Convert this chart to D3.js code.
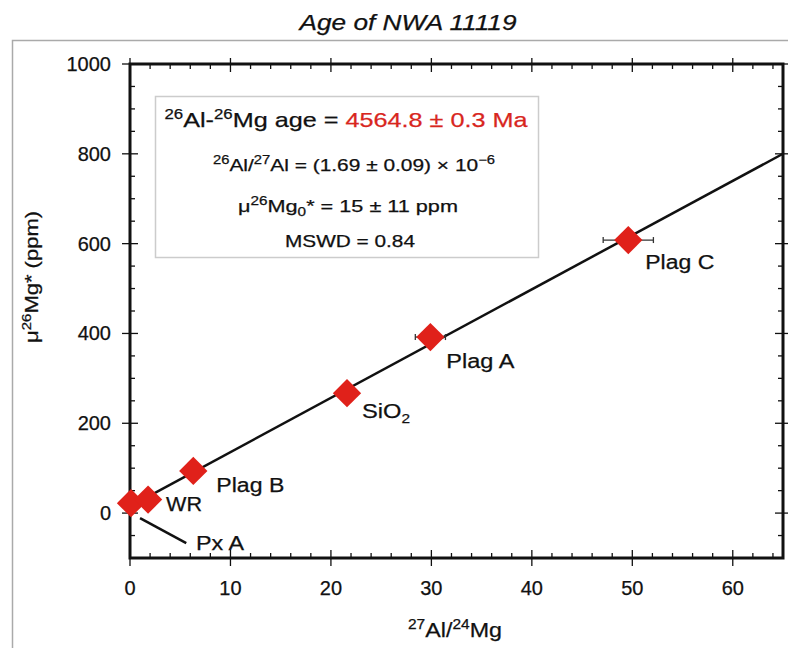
<!DOCTYPE html>
<html>
<head>
<meta charset="utf-8">
<script src="https://d3js.org/d3.v7.min.js"></script>
<style>
  body { margin: 0; background: #fff; }
  text { font-family: "Liberation Sans", Arial, sans-serif; fill: #111; stroke: #111; stroke-width: 0.25px; }
</style>
</head>
<body>
<script>
// samples
var samples = ["Px A", "WR", "Plag B", "SiO2", "Plag A", "Plag C"];
var alMg   = [0.1, 1.8, 6.3, 21.6, 29.9, 49.6];
var mgStar = [22, 30, 94, 267, 392, 608];
var alErr  = [0.3, 0.3, 0.3, 0.4, 1.5, 2.5];

var xTicks = [0, 10, 20, 30, 40, 50, 60];
var yTicks = [0, 200, 400, 600, 800, 1000];
var fitIntercept = 15, fitSlope = 12.08;

var W = 788, H = 648;
var pL = 130, pR = 783, pT = 64, pB = 558;

var svg = d3.select("body").append("svg").attr("width", W).attr("height", H);

var x = d3.scaleLinear().domain([0, 65]).range([pL, pR]);
var y = d3.scaleLinear().domain([-100, 1000]).range([pB, pT]);

// stretch text to the width seen in the picture
function fit(t, w) { return t.attr("textLength", w).attr("lengthAdjust", "spacingAndGlyphs"); }

// outer frame
svg.append("rect").attr("x", 12.5).attr("y", 40.5).attr("width", 800).attr("height", 700)
  .attr("fill", "none").attr("stroke", "#aaa").attr("stroke-width", 1.5);

fit(svg.append("text").attr("x", 408).attr("y", 30).attr("text-anchor", "middle")
  .style("font-size", "22px").style("font-style", "italic").text("Age of NWA 11119"), 217);

// ticks
var tk = svg.append("g").attr("stroke", "#111").attr("stroke-width", 1.3);
d3.range(0, 66, 2).forEach(function(v) {
  var major = v % 10 === 0;
  tk.append("line").attr("x1", x(v)).attr("x2", x(v)).attr("y1", pB - (major ? 8 : 5)).attr("y2", pB + (major ? 8 : 0));
  tk.append("line").attr("x1", x(v)).attr("x2", x(v)).attr("y1", pT + (major ? 8 : 5)).attr("y2", pT - (major ? 6 : 0));
});
d3.range(-100, 1001, 50).forEach(function(v) {
  var major = v % 200 === 0;
  tk.append("line").attr("y1", y(v)).attr("y2", y(v)).attr("x1", pL - (major ? 8 : 0)).attr("x2", pL + (major ? 8 : 5));
  tk.append("line").attr("y1", y(v)).attr("y2", y(v)).attr("x1", pR + (major ? 6 : 0)).attr("x2", pR - (major ? 8 : 5));
});

svg.selectAll(".xl").data(xTicks).enter().append("text")
  .attr("x", function(d) { return x(d); }).attr("y", pB + 37)
  .attr("text-anchor", "middle").style("font-size", "20px").text(function(d) { return d; });
svg.selectAll(".yl").data(yTicks).enter().append("text")
  .attr("x", pL - 19).attr("y", function(d) { return y(d) + 7; })
  .attr("text-anchor", "end").style("font-size", "20px").text(function(d) { return d; });

// frame
svg.append("rect").attr("x", pL).attr("y", pT).attr("width", pR - pL).attr("height", pB - pT)
  .attr("fill", "none").attr("stroke", "#111").attr("stroke-width", 3);

// axis titles
var xt = svg.append("text").attr("x", 455).attr("y", 637).attr("text-anchor", "middle").style("font-size", "21px");
xt.append("tspan").attr("dy", -8).style("font-size", "14px").text("27");
xt.append("tspan").attr("dy", 8).text("Al/");
xt.append("tspan").attr("dy", -8).style("font-size", "14px").text("24");
xt.append("tspan").attr("dy", 8).text("Mg");
fit(xt, 94);

var yt = svg.append("text").attr("transform", "translate(38,277) rotate(-90)").attr("text-anchor", "middle").style("font-size", "19px");
yt.append("tspan").text("\u03bc");
yt.append("tspan").attr("dy", -7).style("font-size", "13px").text("26");
yt.append("tspan").attr("dy", 7).text("Mg* (ppm)");
fit(yt, 132);

// regression line
svg.append("line").attr("x1", x(0)).attr("y1", y(fitIntercept)).attr("x2", x(65)).attr("y2", y(fitIntercept + fitSlope * 65))
  .attr("stroke", "#111").attr("stroke-width", 2.5);

// Px A leader
svg.append("line").attr("x1", x(1)).attr("y1", y(-11)).attr("x2", x(5.6)).attr("y2", y(-67))
  .attr("stroke", "#111").attr("stroke-width", 2.5);

var pts = samples.map(function(s, i) { return { name: s, x: alMg[i], y: mgStar[i], e: alErr[i] }; });

// error bars
var eb = svg.append("g").attr("stroke", "#333").attr("stroke-width", 1.3);
pts.forEach(function(p) {
  if (p.e < 1) return;
  eb.append("line").attr("x1", x(p.x - p.e)).attr("x2", x(p.x + p.e)).attr("y1", y(p.y)).attr("y2", y(p.y));
  [p.x - p.e, p.x + p.e].forEach(function(v) {
    eb.append("line").attr("x1", x(v)).attr("x2", x(v)).attr("y1", y(p.y) - 3).attr("y2", y(p.y) + 3);
  });
});

svg.selectAll(".pt").data(pts).enter().append("path")
  .attr("d", d3.symbol().type(d3.symbolSquare).size(400))
  .attr("transform", function(d) { return "translate(" + x(d.x) + "," + y(d.y) + ") rotate(45)"; })
  .attr("fill", "#e0211a");

// labels: offset from the point and width in the picture
var labelOff = { "Px A": [65, 47, 48], "WR": [18, 11, 36], "Plag B": [23, 21, 68], "SiO2": [15, 25, 48], "Plag A": [16, 31, 68], "Plag C": [17, 29, 69] };
pts.forEach(function(p) {
  var o = labelOff[p.name];
  var t = svg.append("text").attr("x", x(p.x) + o[0]).attr("y", y(p.y) + o[1]).style("font-size", "20px");
  if (p.name === "SiO2") {
    t.append("tspan").text("SiO");
    t.append("tspan").attr("dy", 5).style("font-size", "13px").text("2");
  } else t.text(p.name);
  fit(t, o[2]);
});

// info box
svg.append("rect").attr("x", 155.5).attr("y", 96.5).attr("width", 383).attr("height", 161)
  .attr("fill", "#fff").attr("stroke", "#ccc").attr("stroke-width", 1.5);
var l1 = svg.append("text").attr("x", 346).attr("y", 127).attr("text-anchor", "middle").style("font-size", "21px");
l1.append("tspan").attr("dy", -8).style("font-size", "14px").text("26");
l1.append("tspan").attr("dy", 8).text("Al-");
l1.append("tspan").attr("dy", -8).style("font-size", "14px").text("26");
l1.append("tspan").attr("dy", 8).text("Mg age = ");
l1.append("tspan").style("fill", "#d8261e").style("stroke", "#d8261e").text("4564.8 \u00b1 0.3 Ma");
fit(l1, 363);

var l2 = svg.append("text").attr("x", 354).attr("y", 171).attr("text-anchor", "middle").style("font-size", "17px");
l2.append("tspan").attr("dy", -7).style("font-size", "12px").text("26");
l2.append("tspan").attr("dy", 7).text("Al/");
l2.append("tspan").attr("dy", -7).style("font-size", "12px").text("27");
l2.append("tspan").attr("dy", 7).text("Al = (1.69 \u00b1 0.09) \u00d7 10");
l2.append("tspan").attr("dy", -7).style("font-size", "12px").text("\u22126");
fit(l2, 282);

var l3 = svg.append("text").attr("x", 348).attr("y", 212).attr("text-anchor", "middle").style("font-size", "17px");
l3.append("tspan").text("\u03bc");
l3.append("tspan").attr("dy", -7).style("font-size", "12px").text("26");
l3.append("tspan").attr("dy", 7).text("Mg");
l3.append("tspan").attr("dy", 4).style("font-size", "12px").text("0");
l3.append("tspan").attr("dy", -4).text("* = 15 \u00b1 11 ppm");
fit(l3, 220);

fit(svg.append("text").attr("x", 350).attr("y", 247).attr("text-anchor", "middle").style("font-size", "17px").text("MSWD = 0.84"), 130);
</script>
</body>
</html>
